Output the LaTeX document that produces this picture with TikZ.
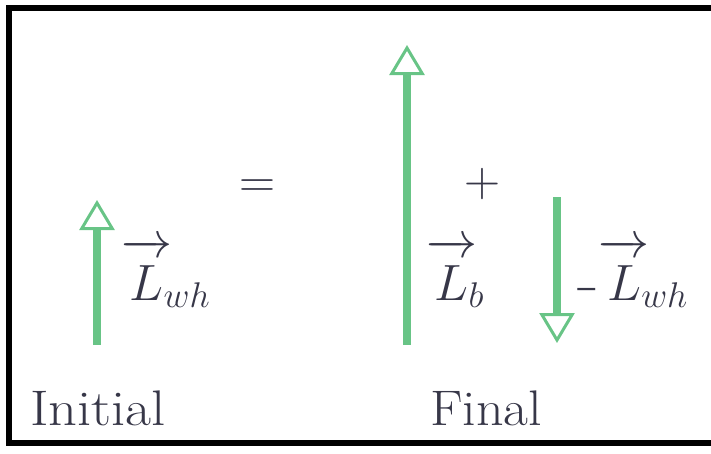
\RequirePackage{fix-cm}
\documentclass[tikz,border=0pt]{standalone}
\usepackage{graphicx}
\usetikzlibrary{arrows.meta}
\definecolor{vecgreen}{RGB}{104,196,134}
\definecolor{txtgray}{RGB}{55,55,72}
\newcommand{\vecLab}[2]{$\overrightarrow{#1\rule{0pt}{0.86em}}\mkern-3mu_{#2}$}
\tikzset{
  vecarrow/.style={draw=vecgreen, line width=8pt,
    -{Triangle[open, length=30pt, width=35pt, line width=3pt]}},
  biglabel/.style={inner sep=0pt, text=txtgray, font=\fontsize{51}{56}\selectfont},
  caption/.style={inner sep=0pt, text=txtgray, font=\fontsize{50}{54}\selectfont},
}
\begin{document}
\begin{tikzpicture}[x=1pt, y=-1pt]
\useasboundingbox (0,0) rectangle (711,453);
% frame (open on the right)
\draw[line width=6.5pt, black] (711,8) -- (9,8) -- (9,443) -- (711,443);

% arrow end points
\coordinate (iBot) at (97,345);
\coordinate (iTop) at (97,200);
\coordinate (bBot) at (407,345);
\coordinate (bTop) at (407,45);
\coordinate (wTop) at (557,197);
\coordinate (wBot) at (557,343);

\draw[vecarrow] (iBot) -- (iTop);
\draw[vecarrow] (bBot) -- (bTop);
\draw[vecarrow] (wTop) -- (wBot);

% labels
\node[biglabel, anchor=base west] (lwh) at (121,300) {\vecLab{L}{wh}};
\node[biglabel, anchor=base west] (lb) at (426,300) {\vecLab{L}{b}};
\node[biglabel, anchor=base west] (mlwh) at (577,300) {\scalebox{1.4}[1]{-}\vecLab{L}{wh}};
\node[caption, anchor=base] (eq) at (257,197) {$=$};
\node[caption, anchor=base] (plus) at (482,196) {$+$};
\node[caption, anchor=base west] (init) at (30,425) {\scalebox{1.13}[1]{Initial}};
\node[caption, anchor=base west] (fin) at (430,425) {\scalebox{1.08}[1]{Final}};
\end{tikzpicture}
\end{document}
